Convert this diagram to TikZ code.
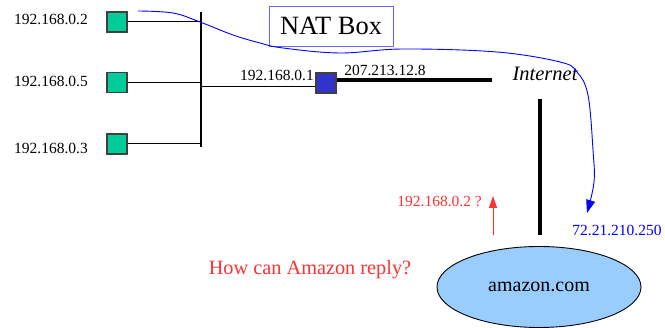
\documentclass[tikz,border=0pt]{standalone}
\usepackage{fontspec}
\setmainfont{Liberation Serif}
\usetikzlibrary{arrows.meta,shapes.geometric,positioning}
\definecolor{hostgreen}{RGB}{0,204,153}
\definecolor{natblue}{RGB}{51,51,204}
\definecolor{cloudblue}{RGB}{153,204,255}
\definecolor{askred}{RGB}{255,51,51}
\definecolor{boxline}{RGB}{102,102,255}
\begin{document}
\begin{tikzpicture}[x=1pt, y=-1pt,
  host/.style={draw=black!75, line width=1.2pt, fill=hostgreen, minimum size=20pt, inner sep=0},
  natbox/.style={draw=black!75, line width=1.2pt, fill=natblue, minimum size=20pt, inner sep=0},
  ip/.style={font=\fontsize{15.5}{18}\selectfont, inner sep=0},
  big/.style={font=\fontsize{20.3}{24}\selectfont, inner sep=0}]
\useasboundingbox (0,0) rectangle (665,328);
% hosts on the private side
\foreach \n/\y/\ty/\addr in {1/22/19/192.168.0.2, 2/82.5/81/192.168.0.5, 3/144/148/192.168.0.3}{
\node[host] (h\n) at (117,\y) {};
\node[ip, anchor=east] at (88,\ty) {\addr};
\draw[line width=1pt] (h\n.east) -- (h\n.east -| 201,0);
}
\draw[line width=2pt] (201,12) -- (201,147);
% NAT box
\node[natbox] (nat) at (326,83) {};
\coordinate (busjoin) at (201,87);
\draw[line width=1pt] (busjoin) -- (busjoin -| nat.west);
\node[ip] at (277,75) {192.168.0.1};
\node[ip] at (385,70) {207.213.12.8};
\node[draw=boxline, line width=0.8pt, minimum width=124pt, minimum height=40pt, inner sep=0,
  font=\fontsize{26.4}{30}\selectfont] (natlabel) at (331,26) {NAT Box};
\coordinate (netend) at (492,80);
\draw[line width=4pt] (nat.east |- netend) -- (netend);
\node[big, font=\fontsize{20.5}{24}\selectfont\itshape] (inet) at (545,74) {Internet};
% amazon
\node[ellipse, draw, line width=0.9pt, fill=cloudblue, minimum width=204pt, minimum height=81pt,
  inner sep=0, font=\fontsize{20}{24}\selectfont] (amazon) at (539,287) {amazon.com};
\coordinate (drop) at (540,99);
\draw[line width=4pt] (drop) -- (drop |- 0,235);
% the question
\coordinate (askfrom) at (493,235);
\coordinate (askto) at (493,196);
\draw[askred, line width=1pt, -{Triangle[length=12pt, width=8pt]}] (askfrom) -- (askto);
\node[ip, text=askred, anchor=east] at (482,201) {192.168.0.2 ?};
\node[big, text=askred] at (310,270) {How can Amazon reply?};
% path of the request
\coordinate (src) at (138,11);
\coordinate (dst) at (587,213);
\draw[blue, line width=0.9pt, -{Triangle[length=13pt, width=9pt]}] plot[smooth, tension=0.6] coordinates
  {(src) (173,13) (200,22) (233,35) (260,43) (283,48) (340,53) (403,49) (497,52) (560,62) (577,72) (588,95) (593,150) (594,182) (dst)};
\node[ip, text=blue] at (617,230) {72.21.210.250};
\end{tikzpicture}
\end{document}
